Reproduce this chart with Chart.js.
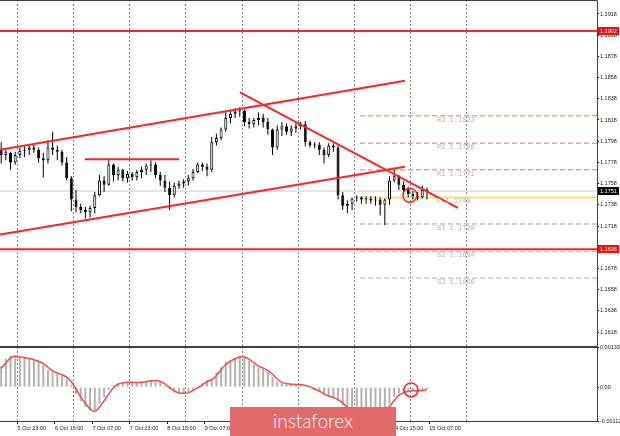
<!DOCTYPE html>
<html>
<head>
<meta charset="utf-8">
<script src="https://cdn.jsdelivr.net/npm/chart.js@4.4.1/dist/chart.umd.min.js"></script>
<style>
  html, body { margin: 0; padding: 0; background: #fff; }
  #wrap { position: relative; width: 620px; height: 436px; overflow: hidden; }
  #price { position: absolute; left: 0; top: 0; }
  #macd { position: absolute; left: 0; top: 336px; }
  #logo {
    position: absolute; left: 230px; top: 407px; width: 166px; height: 29px;
    background: #e26a6a; color: #fff; text-align: center;
    font: 300 19px Lato, "Open Sans", sans-serif; line-height: 28px;
  }
</style>
</head>
<body>
<div id="wrap">
  <canvas id="price" width="620" height="347"></canvas>
  <canvas id="macd" width="620" height="100"></canvas>
  <div id="logo">instaforex</div>
</div>
<script>
// hours are trading hours counted from 5 Oct 23:00, candles are 2-hour bars
const firstHour = -7;
const stepHours = 2;

const opens = [
  1.1790, 1.1785, 1.1787, 1.1778, 1.1785, 1.1789, 1.1790, 1.1792, 1.1790, 1.1782,
  1.1780, 1.1792, 1.1790, 1.1788, 1.1778, 1.1763, 1.1743, 1.1736, 1.1733, 1.1731,
  1.1735, 1.1747, 1.1761, 1.1757, 1.1776, 1.1766, 1.1771, 1.1763, 1.1767, 1.1764,
  1.1769, 1.1771, 1.1775, 1.1776, 1.1766, 1.1761, 1.1754, 1.1747, 1.1756, 1.1758,
  1.1760, 1.1763, 1.1769, 1.1776, 1.1774, 1.1771, 1.1797, 1.1801, 1.1809, 1.1820,
  1.1824, 1.1826, 1.1827, 1.1816, 1.1814, 1.1818, 1.1820, 1.1816, 1.1809, 1.1792,
  1.1809, 1.1812, 1.1807, 1.1810, 1.1812, 1.1814, 1.1797, 1.1794, 1.1795, 1.1790,
  1.1785, 1.1794, 1.1792, 1.1747, 1.1737, 1.1739, 1.1744, 1.1745, 1.1743, 1.1744,
  1.1742, 1.1743, 1.1738, 1.1743, 1.1761, 1.1765, 1.1757, 1.1752, 1.1748, 1.1746,
  1.1745, 1.1752
];
const highs = [
  1.1797, 1.1790, 1.1788, 1.1788, 1.1792, 1.1793, 1.1794, 1.1795, 1.1792, 1.1787,
  1.1799, 1.1807, 1.1794, 1.1790, 1.1783, 1.1765, 1.1752, 1.1739, 1.1736, 1.1737,
  1.1750, 1.1766, 1.1765, 1.1780, 1.1777, 1.1774, 1.1772, 1.1770, 1.1769, 1.1771,
  1.1774, 1.1777, 1.1780, 1.1778, 1.1769, 1.1766, 1.1760, 1.1759, 1.1761, 1.1762,
  1.1766, 1.1772, 1.1778, 1.1778, 1.1777, 1.1802, 1.1805, 1.1811, 1.1826, 1.1827,
  1.1829, 1.1830, 1.1828, 1.1820, 1.1820, 1.1825, 1.1824, 1.1820, 1.1810, 1.1813,
  1.1816, 1.1815, 1.1813, 1.1816, 1.1816, 1.1817, 1.1799, 1.1797, 1.1797, 1.1792,
  1.1796, 1.1796, 1.1794, 1.1750, 1.1742, 1.1745, 1.1747, 1.1746, 1.1746, 1.1746,
  1.1746, 1.1745, 1.1744, 1.1765, 1.1771, 1.1766, 1.1760, 1.1755, 1.1751, 1.1750,
  1.1756, 1.1754
];
const lows = [
  1.1777, 1.1780, 1.1771, 1.1776, 1.1782, 1.1783, 1.1785, 1.1787, 1.1778, 1.1764,
  1.1777, 1.1785, 1.1780, 1.1775, 1.1761, 1.1732, 1.1731, 1.1730, 1.1725, 1.1726,
  1.1730, 1.1746, 1.1750, 1.1756, 1.1760, 1.1761, 1.1760, 1.1759, 1.1761, 1.1761,
  1.1763, 1.1766, 1.1769, 1.1763, 1.1756, 1.1750, 1.1733, 1.1745, 1.1753, 1.1754,
  1.1756, 1.1761, 1.1768, 1.1770, 1.1765, 1.1769, 1.1794, 1.1799, 1.1807, 1.1815,
  1.1820, 1.1821, 1.1812, 1.1810, 1.1811, 1.1813, 1.1811, 1.1804, 1.1785, 1.1790,
  1.1803, 1.1804, 1.1803, 1.1806, 1.1809, 1.1793, 1.1792, 1.1791, 1.1785, 1.1777,
  1.1783, 1.1788, 1.1743, 1.1733, 1.1730, 1.1733, 1.1741, 1.1739, 1.1739, 1.1739,
  1.1737, 1.1728, 1.1719, 1.1738, 1.1759, 1.1752, 1.1747, 1.1745, 1.1743, 1.1742,
  1.1744, 1.1743
];
const closes = [
  1.1785, 1.1788, 1.1778, 1.1785, 1.1789, 1.1790, 1.1792, 1.1790, 1.1782, 1.1780,
  1.1792, 1.1790, 1.1788, 1.1778, 1.1763, 1.1743, 1.1736, 1.1733, 1.1731, 1.1735,
  1.1747, 1.1761, 1.1757, 1.1776, 1.1766, 1.1771, 1.1763, 1.1767, 1.1764, 1.1769,
  1.1771, 1.1775, 1.1776, 1.1766, 1.1761, 1.1754, 1.1747, 1.1756, 1.1758, 1.1760,
  1.1763, 1.1769, 1.1776, 1.1774, 1.1771, 1.1797, 1.1801, 1.1809, 1.1820, 1.1824,
  1.1826, 1.1827, 1.1816, 1.1814, 1.1818, 1.1820, 1.1816, 1.1809, 1.1792, 1.1809,
  1.1812, 1.1807, 1.1810, 1.1812, 1.1814, 1.1797, 1.1794, 1.1795, 1.1790, 1.1785,
  1.1794, 1.1792, 1.1747, 1.1737, 1.1739, 1.1744, 1.1745, 1.1743, 1.1744, 1.1742,
  1.1743, 1.1738, 1.1743, 1.1761, 1.1765, 1.1757, 1.1752, 1.1748, 1.1746, 1.1745,
  1.1752, 1.1751
];

// MACD in units of 0.00001
const macdMain = [
  70, 94, 104, 101, 99, 98, 94, 89, 84, 73,
  57, 49, 45, 38, 28, 8, -23, -46, -65, -78,
  -76, -55, -33, -10, 7, 13, 16, 16, 15, 15,
  17, 20, 23, 22, 17, 5, -7, -18, -21, -20,
  -15, -7, 3, 13, 23, 26, 50, 66, 83, 89,
  98, 102, 99, 88, 74, 66, 60, 51, 35, 19,
  13, 11, 10, 9, 8, 5, -2, -9, -17, -27,
  -31, -36, -45, -60, -73, -83, -84, -83, -79, -78,
  -76, -76, -74, -56, -32, -21, -15, -12, -12, -13,
  -9, -6
];
const macdSignal = [
  62, 80, 97, 102, 100, 98, 95, 91, 86, 78,
  66, 54, 47, 41, 33, 18, -6, -32, -54, -72,
  -80, -66, -45, -22, -2, 10, 14, 16, 16, 15,
  16, 18, 21, 22, 19, 11, -1, -12, -19, -20,
  -18, -11, -2, 8, 18, 25, 38, 58, 75, 86,
  94, 100, 100, 93, 81, 70, 63, 55, 43, 27,
  16, 12, 10, 9, 8, 6, 1, -6, -13, -22,
  -29, -34, -41, -52, -67, -78, -84, -84, -81, -79,
  -77, -76, -75, -64, -44, -27, -18, -14, -12, -12,
  -11, -8
];
const macdUnit = 0.00001;

const tickHours = [0, 16, 32, 48, 64, 80, 96, 112, 128, 144, 160, 176];
const tickLabels = ['5 Oct 23:00', '6 Oct 15:00', '7 Oct 07:00', '7 Oct 23:00', '8 Oct 15:00', '9 Oct 07:00',
  '9 Oct 23:00', '12 Oct 15:00', '13 Oct 07:00', '13 Oct 23:00', '14 Oct 15:00', '15 Oct 07:00'];
const gridHours = [0, 24, 48, 72, 96, 120, 144, 168, 192];
const priceTicks = [1.1618, 1.1638, 1.1658, 1.1678, 1.1698, 1.1718, 1.1738, 1.1758,
  1.1778, 1.1798, 1.1818, 1.1838, 1.1858, 1.1878, 1.1898, 1.1918];
const macdTicks = [-0.00112, 0, 0.00133];

const levelNames = ['R3', 'R2', 'R1', 'P', 'S1', 'S2', 'S3'];
const levelPrices = [1.1822, 1.1796, 1.1771, 1.1745, 1.1720, 1.1694, 1.1669];
const levelFromHour = 146.4;
const levelLabelHour = 179.3;

const resistancePrice = 1.1902;
const supportPrice = 1.1696;
const bidPrice = 1.1751;
const channelTop = [[-7.5, 1.1790], [165.6, 1.1855]];
const channelBottom = [[-7.5, 1.1710], [165.6, 1.1774]];
const flatTop = [[28.8, 1.1781], [69, 1.1781]];
const fallingLine = [[95.1, 1.1844], [188.2, 1.1735]];
const markedPrice = [167.7, 1.1747];
const markedMacd = [168.2, -9];

const xMin = -7.5, xMax = 247.7;
const priceMin = 1.16048, priceMax = 1.19312;

const RED = '#ff2424';
const axisFont = { family: 'Liberation Sans', size: 5.5 };
const hourOf = i => firstHour + i * stepHours;
const pts = arr => arr.map(p => ({ x: p[0], y: p[1] }));

function redLine(points) {
  return { type: 'line', data: pts(points), borderColor: RED, borderWidth: 2, pointRadius: 0, order: 2 };
}

const levelSets = levelNames.map((name, i) => ({
  type: 'line',
  data: [{ x: levelFromHour, y: levelPrices[i] }, { x: xMax, y: levelPrices[i] }],
  borderColor: name === 'P' ? '#f7e27c' : (name[0] === 'R' ? '#f7a47c' : '#e2c0c0'),
  borderWidth: name === 'P' ? 2 : 1.6,
  borderDash: name === 'P' ? [] : [5, 3],
  pointRadius: 0,
  order: 8
}));

const pricePlugin = {
  id: 'priceExtras',
  afterDatasetsDraw(chart) {
    const { ctx, chartArea: a, scales } = chart;
    ctx.save();
    // pivot captions
    ctx.font = '7px "Liberation Mono"';
    ctx.fillStyle = '#b4b4b4';
    ctx.textBaseline = 'middle';
    const lx = scales.x.getPixelForValue(levelLabelHour);
    levelNames.forEach((n, i) => {
      ctx.fillText(n + ' ' + levelPrices[i].toFixed(4), lx, scales.y.getPixelForValue(levelPrices[i]) + 4);
    });
    // frame
    ctx.strokeStyle = '#404040';
    ctx.lineWidth = 1;
    ctx.beginPath();
    ctx.moveTo(a.left, a.top + 0.5); ctx.lineTo(a.right + 0.5, a.top + 0.5);
    ctx.lineTo(a.right + 0.5, a.bottom + 0.5); ctx.lineTo(a.left, a.bottom + 0.5);
    ctx.stroke();
    ctx.restore();
  },
  afterDraw(chart) {
    const { ctx, chartArea: a, scales } = chart;
    ctx.save();
    ctx.font = '5.5px "Liberation Sans"';
    ctx.textBaseline = 'middle';
    [[resistancePrice, '#ee1111'], [bidPrice, '#000'], [supportPrice, '#ee1111']].forEach(([p, c]) => {
      const y = scales.y.getPixelForValue(p);
      ctx.fillStyle = c;
      ctx.fillRect(a.right + 1, Math.round(y) - 4, 21, 8);
      ctx.fillStyle = '#fff';
      ctx.fillText(p.toFixed(4), a.right + 3, Math.round(y));
    });
    ctx.restore();
  }
};

const macdPlugin = {
  id: 'macdFrame',
  afterDatasetsDraw(chart) {
    const { ctx, chartArea: a } = chart;
    ctx.save();
    ctx.strokeStyle = '#404040';
    ctx.lineWidth = 1;
    ctx.beginPath();
    ctx.moveTo(a.left, a.top + 0.5); ctx.lineTo(a.right + 0.5, a.top + 0.5);
    ctx.lineTo(a.right + 0.5, a.bottom + 0.5); ctx.lineTo(a.left, a.bottom + 0.5);
    ctx.stroke();
    ctx.restore();
  }
};

const commonOpts = {
  responsive: false,
  animation: false,
  events: [],
  plugins: { legend: { display: false }, tooltip: { enabled: false } }
};

function gridAxis() {
  return {
    type: 'linear', min: xMin, max: xMax, bounds: 'data', offset: false, position: 'bottom',
    afterBuildTicks: s => { s.ticks = gridHours.map(v => ({ value: v })); },
    ticks: { display: false },
    grid: { color: '#8c8c8c', lineWidth: 1, drawTicks: false, offset: false },
    border: { display: false, dash: [2, 2] }
  };
}

new Chart(document.getElementById('price'), {
  type: 'bar',
  data: {
    datasets: [
      { type: 'line', data: [{ x: xMin, y: bidPrice }, { x: xMax, y: bidPrice }],
        borderColor: '#cacaca', borderWidth: 1, pointRadius: 0, order: 9 },
      ...levelSets,
      { type: 'bar', data: highs.map((h, i) => ({ x: hourOf(i), y: [lows[i], h] })),
        backgroundColor: '#000', grouped: false, maxBarThickness: 1, order: 5 },
      { type: 'bar', data: opens.map((o, i) => ({ x: hourOf(i), y: [o, closes[i]] })),
        backgroundColor: opens.map((o, i) => closes[i] >= o ? '#fff' : '#000'),
        borderColor: '#000', borderWidth: 1, borderSkipped: false,
        grouped: false, maxBarThickness: 3, order: 4 },
      redLine([[xMin, resistancePrice], [xMax, resistancePrice]]),
      redLine([[xMin, supportPrice], [xMax, supportPrice]]),
      redLine(channelTop),
      redLine(channelBottom),
      redLine(flatTop),
      redLine(fallingLine),
      { type: 'line', data: pts([markedPrice]), showLine: false, pointRadius: 7, pointStyle: 'circle',
        pointBackgroundColor: 'rgba(0,0,0,0)', pointBorderColor: RED, pointBorderWidth: 1.5, order: 1 }
    ]
  },
  options: {
    ...commonOpts,
    layout: { autoPadding: false, padding: { top: 0, bottom: 1, left: 0, right: 0 } },
    scales: {
      x: gridAxis(),
      y: {
        position: 'right', min: priceMin, max: priceMax, bounds: 'data',
        afterBuildTicks: s => { s.ticks = priceTicks.map(v => ({ value: v })); },
        afterFit: s => { s.width = 23; s.paddingTop = 0; s.paddingBottom = 0; },
        ticks: { padding: 1, color: '#1a1a1a', font: axisFont, autoSkip: false, callback: v => v.toFixed(4) },
        grid: { drawOnChartArea: false, tickLength: 2, color: '#000' },
        border: { display: false }
      }
    }
  },
  plugins: [pricePlugin]
});

new Chart(document.getElementById('macd'), {
  type: 'bar',
  data: {
    datasets: [
      { type: 'line', data: macdSignal.map((v, i) => ({ x: hourOf(i), y: v * macdUnit })),
        borderColor: '#f24c4c', borderWidth: 1.5, pointRadius: 0, tension: 0.35, order: 2 },
      { type: 'bar', data: macdMain.map((v, i) => ({ x: hourOf(i), y: v * macdUnit })),
        backgroundColor: '#b2b2b2', grouped: false, maxBarThickness: 2, order: 3 },
      { type: 'line', data: [{ x: markedMacd[0], y: markedMacd[1] * macdUnit }], showLine: false,
        pointRadius: 7, pointStyle: 'circle', pointBackgroundColor: 'rgba(0,0,0,0)',
        pointBorderColor: RED, pointBorderWidth: 1.5, order: 1 }
    ]
  },
  options: {
    ...commonOpts,
    layout: { autoPadding: false, padding: { top: 11, bottom: 0, left: 0, right: 0 } },
    scales: {
      x: {
        type: 'linear', min: xMin, max: xMax, bounds: 'data', offset: false, position: 'bottom',
        afterBuildTicks: s => { s.ticks = tickHours.map(v => ({ value: v })); },
        afterFit: s => { s.height = 15; s.paddingLeft = 0; s.paddingRight = 0; },
        ticks: { align: 'start', padding: 1, maxRotation: 0, autoSkip: false, color: '#1a1a1a',
          font: axisFont, callback: (v, i) => tickLabels[i] },
        grid: { drawOnChartArea: false, tickLength: 3, color: '#000', offset: false },
        border: { display: false }
      },
      xg: gridAxis(),
      y: {
        position: 'right', min: macdTicks[0], max: macdTicks[2], bounds: 'data',
        afterBuildTicks: s => { s.ticks = macdTicks.map(v => ({ value: v })); },
        afterFit: s => { s.width = 23; s.paddingTop = 0; s.paddingBottom = 0; },
        ticks: { padding: 1, color: '#1a1a1a', font: axisFont, autoSkip: false,
          callback: v => v === 0 ? '0.00' : v.toFixed(5) },
        grid: { drawOnChartArea: false, tickLength: 2, color: '#000' },
        border: { display: false }
      }
    }
  },
  plugins: [macdPlugin]
});
</script>
</body>
</html>
